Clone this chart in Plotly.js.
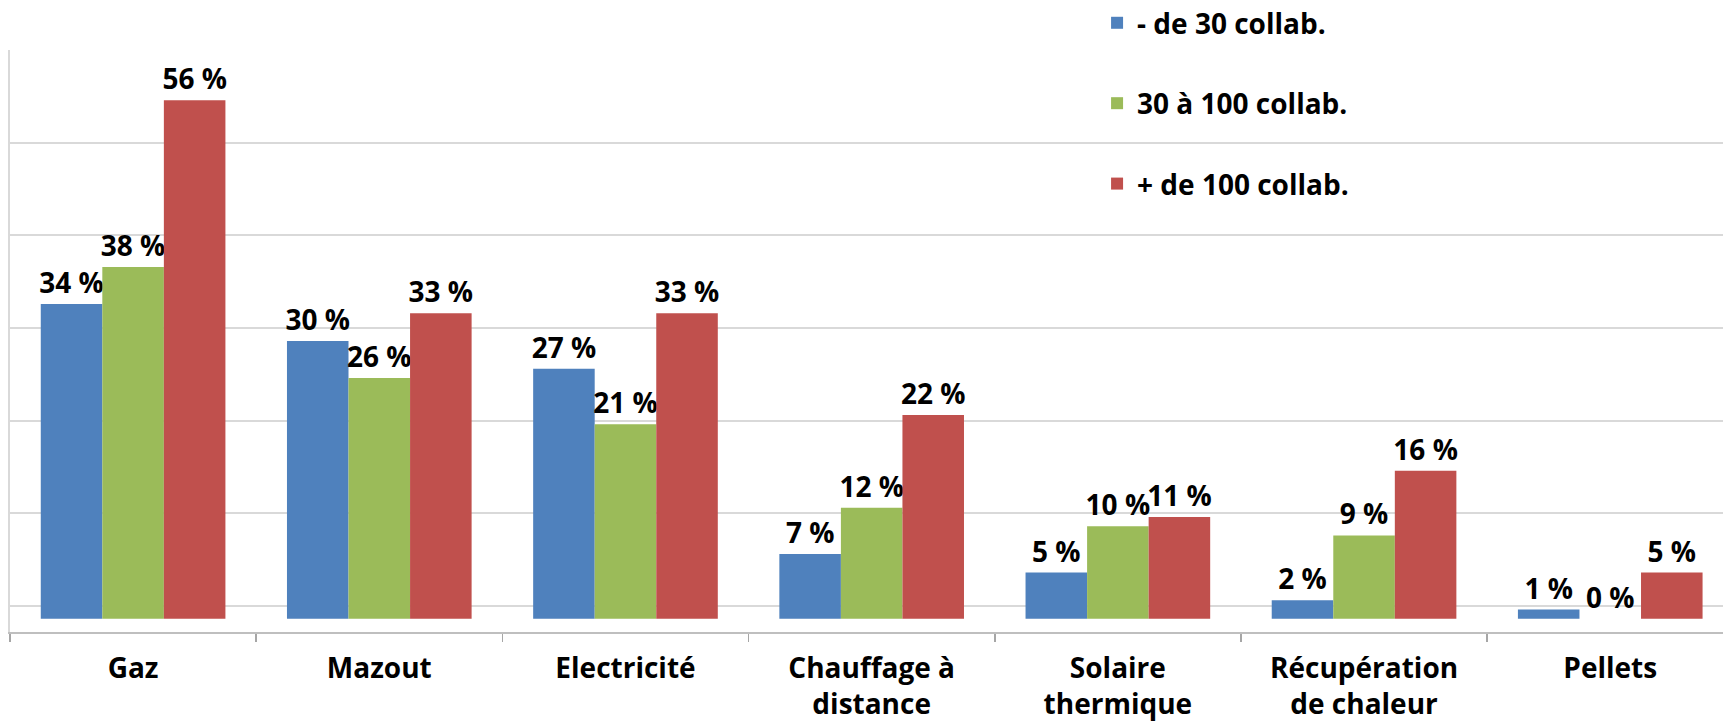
<!DOCTYPE html>
<html>
<head>
<meta charset="utf-8">
<script src="https://cdn.plot.ly/plotly-3.0.1.min.js"></script>
<style>
  html, body { margin: 0; padding: 0; background: #ffffff; }
  #chart { width: 1723px; height: 721px; }
</style>
</head>
<body>
<div id="chart"></div>
<script>
const categories = [
  "Gaz",
  "Mazout",
  "Electricité",
  "Chauffage à<br>distance",
  "Solaire<br>thermique",
  "Récupération<br>de chaleur",
  "Pellets"
];
const seriesNames = ["- de 30 collab.", "30 à 100 collab.", "+ de 100 collab."];
const moins30 = [34, 30, 27, 7, 5, 2, 1];
const de30a100 = [38, 26, 21, 12, 10, 9, 0];
const plus100 = [56, 33, 33, 22, 11, 16, 5];
const seriesValues = [moins30, de30a100, plus100];
const seriesColors = ["#4f81bd", "#9bbb59", "#c0504d"];

const font = { family: "Open Sans, Noto Sans, sans-serif", size: 28, color: "#000000", weight: 700 };

const traces = seriesValues.map((vals, i) => ({
  type: "bar",
  name: seriesNames[i],
  legendgroup: "g" + i,
  x: categories,
  y: vals,
  marker: { color: seriesColors[i], line: { width: 0 } },
  text: vals.map(v => v + " %"),
  textposition: "outside",
  constraintext: "none",
  cliponaxis: false,
  textfont: font,
  hoverinfo: "none"
}));

const layout = {
  width: 1723,
  height: 721,
  margin: { l: 10, r: 0, t: 50, b: 89, pad: 0, autoexpand: false },
  paper_bgcolor: "#ffffff",
  plot_bgcolor: "#ffffff",
  barmode: "group",
  bargap: 0.25,
  bargroupgap: 0,
  showlegend: true,
  legend: {
    x: 0.6346,
    xanchor: "left",
    y: 1.0892,
    yanchor: "top",
    traceorder: "grouped",
    tracegroupgap: 41,
    font: font,
    bgcolor: "rgba(0,0,0,0)"
  },
  xaxis: {
    type: "category",
    range: [-0.5, 6.458],
    showgrid: false,
    showline: true,
    linecolor: "#bfbfbf",
    linewidth: 2,
    ticks: "outside",
    tickson: "boundaries",
    ticklen: 8,
    tickwidth: 1.5,
    tickcolor: "#a6a6a6",
    ticklabelstandoff: 10,
    tickfont: font,
    fixedrange: true
  },
  yaxis: {
    range: [-1.42, 61.42],
    tick0: 1.4,
    dtick: 10,
    showgrid: true,
    gridcolor: "#d9d9d9",
    gridwidth: 2,
    zeroline: false,
    showline: true,
    linecolor: "#d9d9d9",
    linewidth: 2,
    showticklabels: false,
    ticks: "",
    fixedrange: true
  }
};

Plotly.newPlot("chart", traces, layout, { displayModeBar: false, staticPlot: true });
</script>
</body>
</html>
